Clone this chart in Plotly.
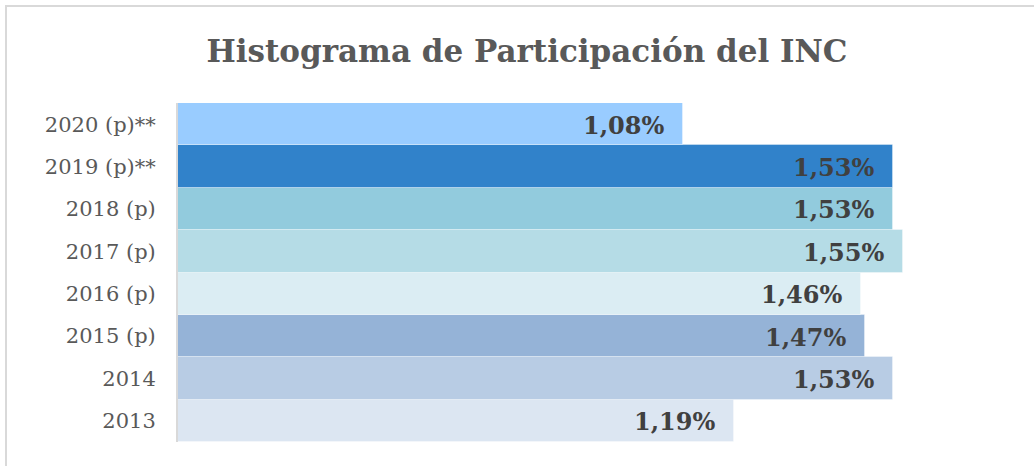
import plotly.graph_objects as go

categories = ["2013", "2014", "2015 (p)", "2016 (p)", "2017 (p)", "2018 (p)", "2019 (p)**", "2020 (p)**"]
values = [1.19, 1.53, 1.47, 1.46, 1.55, 1.53, 1.53, 1.08]
labels = ["1,19%", "1,53%", "1,47%", "1,46%", "1,55%", "1,53%", "1,53%", "1,08%"]
colors = ["#DCE6F2", "#B8CCE4", "#95B3D7", "#DBEDF3", "#B5DCE6", "#92CBDD", "#3182CA", "#99CCFF"]

L, R, T, B = 178, 41, 103, 24
W, H = 1034, 466
pw, ph = W - L - R, H - T - B

fig = go.Figure()
fig.add_trace(go.Bar(
    y=categories, x=values, orientation="h",
    marker=dict(color=colors, line=dict(color="rgba(255,255,255,0.35)", width=1)),
    hoverinfo="skip",
))

# value labels: category axis index used for the vertical position
for i, (v, t) in enumerate(zip(values, labels)):
    fig.add_annotation(
        x=v, y=i, xref="x", yref="y", text=t, showarrow=False,
        xanchor="right", yanchor="middle", xshift=-17, yshift=-1,
        font=dict(family="DejaVu Serif", size=24, color="#404040", weight="bold"),
    )

# outer chart border (extends past the right/bottom edges)
fig.add_shape(type="rect", xref="paper", yref="paper",
              x0=(6 - L) / pw, x1=(W + 10 - L) / pw,
              y0=-(B + 10) / ph, y1=(H - B - 6) / ph,
              line=dict(color="#D9D9D9", width=2), fillcolor="rgba(0,0,0,0)", layer="below")

fig.update_layout(
    width=W, height=H,
    margin=dict(l=L, r=R, t=T, b=B),
    paper_bgcolor="white", plot_bgcolor="white",
    bargap=0,
    showlegend=False,
    title=dict(text="Histograma de Participación del INC", xref="container", x=527 / W,
               xanchor="center", yref="container", y=1 - 51 / H, yanchor="middle",
               font=dict(family="DejaVu Serif", size=31, color="#595959", weight="bold")),
    xaxis=dict(range=[0, pw / 467.5], visible=False, fixedrange=True),
    yaxis=dict(type="category", categoryorder="array", categoryarray=categories,
               range=[-0.5, len(categories) - 0.5],
               showline=True, linecolor="#D9D9D9", linewidth=2, showgrid=False,
               ticks="outside", ticklen=16, tickcolor="white", tickwidth=1,
               tickfont=dict(family="DejaVu Serif", size=21, color="#595959"),
               fixedrange=True),
)

fig.write_html("out.html", config={"displayModeBar": False})
